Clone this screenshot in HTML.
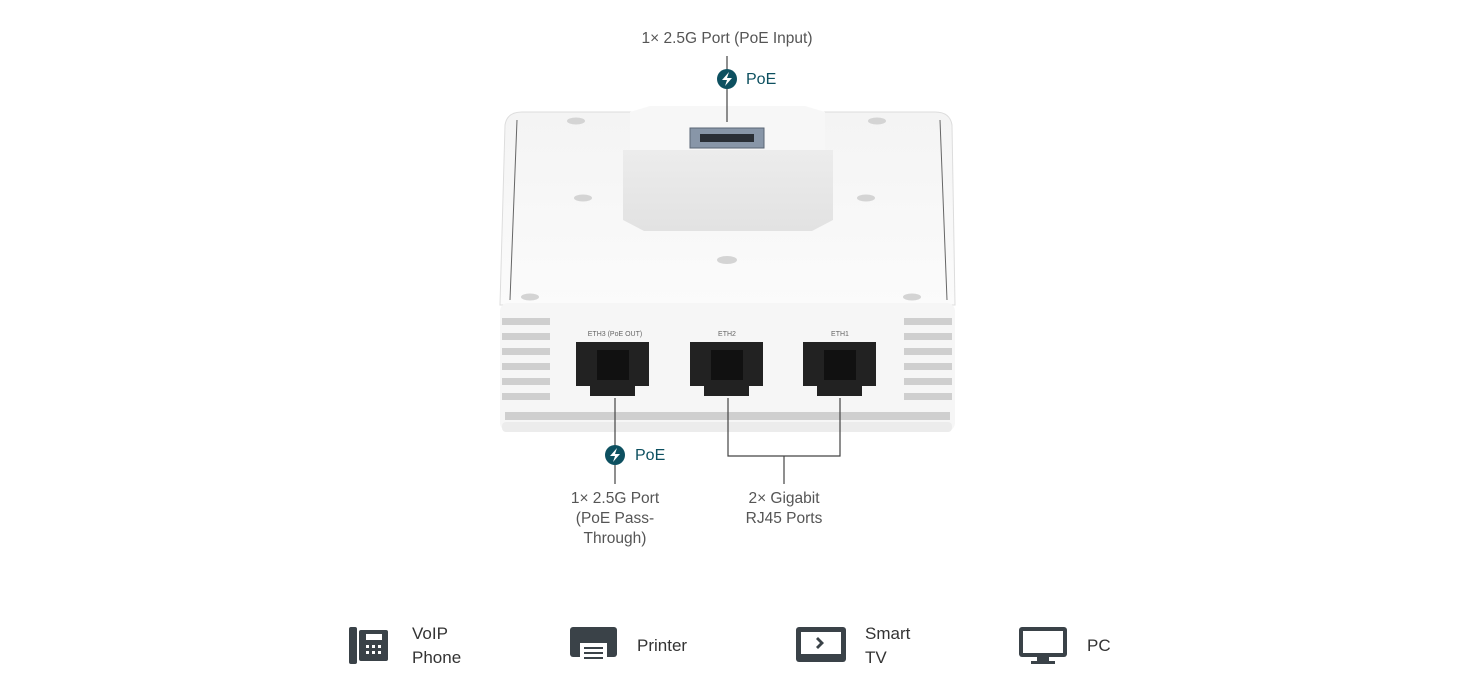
<!DOCTYPE html>
<html><head><meta charset="utf-8"><style>
body{margin:0;width:1459px;height:692px;background:#fff;overflow:hidden;font-family:"Liberation Sans",sans-serif;}
svg{position:absolute;left:0;top:0}
</style></head><body>
<svg width="1459" height="692" viewBox="0 0 1459 692">
<defs>
<linearGradient id="top" x1="0" y1="0" x2="0" y2="1"><stop offset="0" stop-color="#f4f4f4"/><stop offset="1" stop-color="#fbfbfb"/></linearGradient>
<linearGradient id="blk" x1="0" y1="0" x2="0" y2="1"><stop offset="0" stop-color="#ececec"/><stop offset="1" stop-color="#e2e2e2"/></linearGradient>
</defs>
<!-- device top face -->
<path d="M522 112 L935 112 Q950 112 952 125 L955 305 L500 305 L505 125 Q507 112 522 112Z" fill="url(#top)" stroke="#ddd"/>
<path d="M517 120 L510 300 M940 120 L947 300" stroke="#666" stroke-width="1"/>
<!-- front face -->
<rect x="500" y="303" width="455" height="128" rx="8" fill="#f6f6f6"/>
<g fill="#cfcfcf">
<rect x="502" y="318" width="48" height="7"/><rect x="502" y="333" width="48" height="7"/><rect x="502" y="348" width="48" height="7"/><rect x="502" y="363" width="48" height="7"/><rect x="502" y="378" width="48" height="7"/><rect x="502" y="393" width="48" height="7"/>
<rect x="904" y="318" width="48" height="7"/><rect x="904" y="333" width="48" height="7"/><rect x="904" y="348" width="48" height="7"/><rect x="904" y="363" width="48" height="7"/><rect x="904" y="378" width="48" height="7"/><rect x="904" y="393" width="48" height="7"/>
<rect x="505" y="412" width="445" height="8"/>
</g>
<rect x="502" y="422" width="450" height="10" rx="4" fill="#ececec"/>
<!-- holes -->
<g fill="#d4d4d4"><ellipse cx="576" cy="121" rx="9" ry="3.5"/><ellipse cx="877" cy="121" rx="9" ry="3.5"/><ellipse cx="583" cy="198" rx="9" ry="3.5"/><ellipse cx="866" cy="198" rx="9" ry="3.5"/><ellipse cx="727" cy="260" rx="10" ry="4"/><ellipse cx="530" cy="297" rx="9" ry="3.5"/><ellipse cx="912" cy="297" rx="9" ry="3.5"/></g>
<!-- raised block -->
<path d="M630 112 L650 106 L805 106 L825 112 L825 150 L630 150Z" fill="#f7f7f7"/>
<path d="M623 150 L833 150 L833 220 L812 231 L644 231 L623 220Z" fill="url(#blk)"/>
<rect x="690" y="128" width="74" height="20" fill="#8896a8" stroke="#5a6574"/>
<rect x="700" y="134" width="54" height="8" fill="#2a2f36"/>
<!-- ports -->
<g fill="#222"><path d="M576 342 h73 v44 h-14 v10 h-45 v-10 h-14z"/><path d="M690 342 h73 v44 h-14 v10 h-45 v-10 h-14z"/><path d="M803 342 h73 v44 h-14 v10 h-45 v-10 h-14z"/></g>
<g fill="#111"><rect x="597" y="350" width="32" height="30"/><rect x="711" y="350" width="32" height="30"/><rect x="824" y="350" width="32" height="30"/></g>
<g font-size="7" fill="#666" text-anchor="middle"><text x="615" y="336">ETH3 (PoE OUT)</text><text x="727" y="336">ETH2</text><text x="840" y="336">ETH1</text></g>
<!-- connectors -->
<g stroke="#444" stroke-width="1.2" fill="none">
<path d="M727 56 V122"/><path d="M615 398 V484"/><path d="M728 398 V456 H840 V398"/><path d="M784 456 V484"/>
</g>
<g fill="#0d5060"><circle cx="727" cy="79" r="10"/><circle cx="615" cy="455" r="10"/></g>
<g fill="#fff"><path d="M729 72 L722 80 H727 L725 86 L732 78 H727Z"/><path d="M617 448 L610 456 H615 L613 462 L620 454 H615Z"/></g>
<g font-size="15.5" fill="#555" text-anchor="middle">
<text x="727" y="43">1× 2.5G Port (PoE Input)</text>
<text x="615" y="503">1× 2.5G Port</text><text x="615" y="523">(PoE Pass-</text><text x="615" y="543">Through)</text>
<text x="784" y="503">2× Gigabit</text><text x="784" y="523">RJ45 Ports</text>
</g>
<g font-size="16" fill="#0d5060"><text x="746" y="84">PoE</text><text x="635" y="460">PoE</text></g>
<!-- bottom icons -->
<g fill="#3a4248">
<rect x="349" y="627" width="8" height="37" rx="2"/><rect x="359" y="630" width="29" height="31" rx="2"/>
<rect x="570" y="627" width="47" height="30" rx="3"/><rect x="580" y="643" width="27" height="20" fill="#fff"/>
<rect x="796" y="627" width="50" height="35" rx="3"/>
<rect x="1019" y="627" width="48" height="30" rx="3"/><rect x="1037" y="657" width="12" height="4"/><rect x="1031" y="661" width="24" height="3"/>
</g>
<g fill="#fff">
<rect x="366" y="634" width="16" height="6"/><rect x="366" y="645" width="3" height="3"/><rect x="372" y="645" width="3" height="3"/><rect x="378" y="645" width="3" height="3"/><rect x="366" y="651" width="3" height="3"/><rect x="372" y="651" width="3" height="3"/><rect x="378" y="651" width="3" height="3"/>
<rect x="801" y="632" width="40" height="22"/><rect x="1023" y="631" width="40" height="22"/>
</g>
<g fill="#3a4248"><rect x="584" y="647" width="19" height="2"/><rect x="584" y="652" width="19" height="2"/><rect x="584" y="657" width="19" height="2"/>
<path d="M818 637 L824 643 L818 649 L816 647 L820 643 L816 639Z"/></g>
<g font-size="17" fill="#333">
<text x="412" y="639">VoIP</text><text x="412" y="663">Phone</text>
<text x="637" y="651">Printer</text>
<text x="865" y="639">Smart</text><text x="865" y="663">TV</text>
<text x="1087" y="651">PC</text>
</g>
</svg>
</body></html>
